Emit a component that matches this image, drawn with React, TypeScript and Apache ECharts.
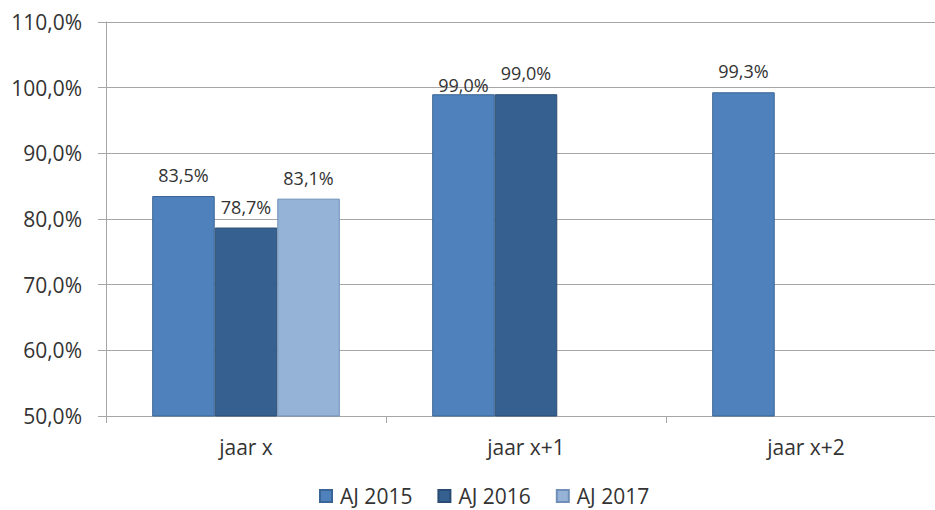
import React, { useEffect, useRef } from "react";
import * as echarts from "echarts";

const categories = ["jaar x", "jaar x+1", "jaar x+2"];
const seriesNames = ["AJ 2015", "AJ 2016", "AJ 2017"];
const aj2015 = [83.5, 99.0, 99.3];
const aj2016 = [78.7, 99.0, null];
const aj2017 = [83.1, null, null];
const colors = ["#4f81bd", "#36608f", "#95b3d7"];
const borders = ["#3b6597", "#2a4b73", "#6f8fb8"];

const FONT = "'Open Sans', 'Noto Sans', sans-serif";
const fmt = (v: number) => v.toFixed(1).replace(".", ",") + "%";

export default function App() {
  const ref = useRef<HTMLDivElement>(null);
  useEffect(() => {
    const chart = echarts.init(ref.current!, null, { renderer: "svg" });
    const datas = [aj2015, aj2016, aj2017];
    chart.setOption({
      animation: false,
      textStyle: { fontFamily: FONT },
      grid: { left: 106, width: 840, top: 22, bottom: 94, containLabel: false },
      legend: {
        data: seriesNames,
        left: 314,
        top: 479,
        itemWidth: 12,
        itemHeight: 12,
        itemGap: 25,
        icon: "rect",
        textStyle: { fontFamily: FONT, fontSize: 21, color: "#333", padding: [0, 0, 0, 3], lineHeight: 24 },
      },
      xAxis: {
        type: "category",
        data: categories,
        axisLine: { lineStyle: { color: "#a6a6a6", width: 1 } },
        axisTick: { show: true, length: 7, lineStyle: { color: "#a6a6a6" } },
        axisLabel: { fontFamily: FONT, fontSize: 21, color: "#333", margin: 20 },
      },
      yAxis: {
        type: "value",
        min: 50,
        max: 110,
        interval: 10,
        axisLine: { show: true, lineStyle: { color: "#a6a6a6", width: 1 } },
        axisTick: { show: true, length: 8, lineStyle: { color: "#a6a6a6" } },
        splitLine: { lineStyle: { color: "#a6a6a6", width: 1 } },
        axisLabel: {
          fontFamily: FONT,
          fontSize: 21,
          color: "#333",
          margin: 24,
          formatter: (v: number) => fmt(v),
        },
      },
      series: datas.map((d, i) => ({
        name: seriesNames[i],
        type: "bar",
        barGap: "0%",
        barCategoryGap: "33%",
        itemStyle: { color: colors[i], borderColor: borders[i], borderWidth: 1 },
        label: {
          show: true,
          position: "top",
          distance: 12,
          fontFamily: FONT,
          fontSize: 18,
          color: "#333",
          formatter: (p: any) => fmt(p.value),
        },
        data: d.map((v, j) =>
          v === null
            ? null
            : i === 0 && j === 1
            ? { value: v, label: { offset: [0, 12] } }
            : v
        ),
      })),
    });
    return () => chart.dispose();
  }, []);
  return (
    <div
      style={{ position: "absolute", left: 0, top: 0, width: 935, height: 510, overflow: "hidden", background: "#fff" }}
    >
      <div ref={ref} style={{ width: 950, height: 510 }} />
    </div>
  );
}
